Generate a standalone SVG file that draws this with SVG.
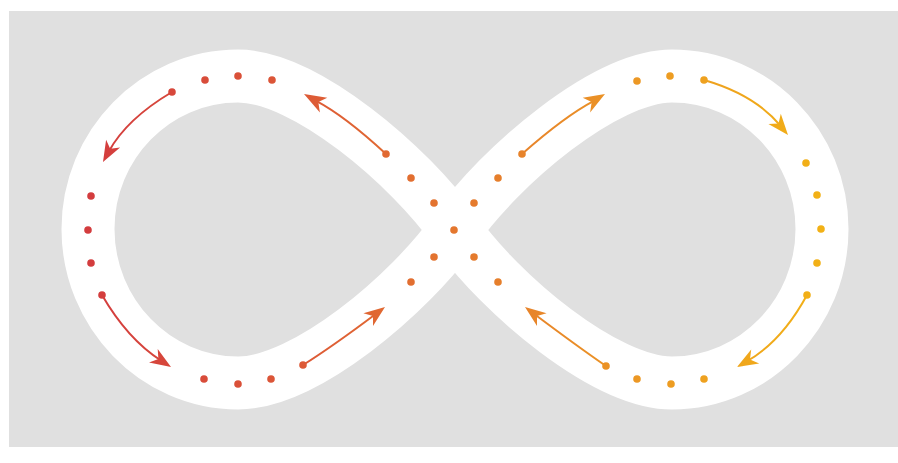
<svg xmlns="http://www.w3.org/2000/svg" width="898" height="463" viewBox="0 0 898 463">
  <defs>
    <!-- warm hue ramp running left to right across the loop -->
    <linearGradient id="warm" gradientUnits="userSpaceOnUse" x1="88" y1="0" x2="822" y2="0">
      <stop offset="0" stop-color="#d33c3e"/>
      <stop offset="0.3" stop-color="#dd5a36"/>
      <stop offset="0.5" stop-color="#e4772e"/>
      <stop offset="0.75" stop-color="#ec9824"/>
      <stop offset="1" stop-color="#f2b116"/>
    </linearGradient>
    <style>
      .band { fill: none; stroke: #ffffff; stroke-width: 53; stroke-linejoin: round; }
      .dot { fill: url(#warm); }
      .shaft { fill: none; stroke: url(#warm); stroke-width: 2; stroke-linecap: round; }
      .head { fill: url(#warm); }
    </style>
  </defs>

  <rect id="backdrop" x="9" y="11" width="889" height="436" fill="#e0e0e0"/>

  <!-- figure-eight track -->
  <g id="track">
    <path class="band" d="M455,230 C410,166 305,76 238,76 C155,76 88,145 88,229 C88,313 155,383 238,383 C305,383 410,294 455,230 C500,166 605,76 672,76 C755,76 822,145 822,229 C822,313 755,383 672,383 C605,383 500,294 455,230 Z"/>
  </g>

  <!-- dots along the track -->
  <g id="dots">
    <circle class="dot" cx="172" cy="92" r="3.8"/>
    <circle class="dot" cx="205" cy="80" r="3.8"/>
    <circle class="dot" cx="238" cy="76" r="3.8"/>
    <circle class="dot" cx="272" cy="80" r="3.8"/>
    <circle class="dot" cx="91" cy="196" r="3.8"/>
    <circle class="dot" cx="88" cy="230" r="3.8"/>
    <circle class="dot" cx="91" cy="263" r="3.8"/>
    <circle class="dot" cx="102" cy="295" r="3.8"/>
    <circle class="dot" cx="204" cy="379" r="3.8"/>
    <circle class="dot" cx="238" cy="384" r="3.8"/>
    <circle class="dot" cx="271" cy="379" r="3.8"/>
    <circle class="dot" cx="303" cy="365" r="3.8"/>
    <circle class="dot" cx="386" cy="154" r="3.8"/>
    <circle class="dot" cx="411" cy="178" r="3.8"/>
    <circle class="dot" cx="434" cy="203" r="3.8"/>
    <circle class="dot" cx="474" cy="203" r="3.8"/>
    <circle class="dot" cx="498" cy="178" r="3.8"/>
    <circle class="dot" cx="454" cy="230" r="3.8"/>
    <circle class="dot" cx="434" cy="257" r="3.8"/>
    <circle class="dot" cx="474" cy="257" r="3.8"/>
    <circle class="dot" cx="411" cy="282" r="3.8"/>
    <circle class="dot" cx="498" cy="282" r="3.8"/>
    <circle class="dot" cx="522" cy="154" r="3.8"/>
    <circle class="dot" cx="637" cy="81" r="3.8"/>
    <circle class="dot" cx="670" cy="76" r="3.8"/>
    <circle class="dot" cx="704" cy="80" r="3.8"/>
    <circle class="dot" cx="806" cy="163" r="3.8"/>
    <circle class="dot" cx="817" cy="195" r="3.8"/>
    <circle class="dot" cx="821" cy="229" r="3.8"/>
    <circle class="dot" cx="817" cy="263" r="3.8"/>
    <circle class="dot" cx="807" cy="295" r="3.8"/>
    <circle class="dot" cx="704" cy="379" r="3.8"/>
    <circle class="dot" cx="671" cy="384" r="3.8"/>
    <circle class="dot" cx="637" cy="379" r="3.8"/>
    <circle class="dot" cx="606" cy="366" r="3.8"/>
  </g>

  <!-- direction arrows -->
  <g id="connectors">
    <path class="shaft" d="M172,92 Q126.5,119 108.8,151.5"/>
    <path class="head" d="M103,162 L106.1,139.7 L110.2,148.8 L120.1,147.4 Z"/>

    <path class="shaft" d="M102,295 Q127.5,339 160.9,360.5"/>
    <path class="head" d="M171,367 L149,362.4 L158.4,358.9 L157.7,348.9 Z"/>

    <path class="shaft" d="M303,365 Q333,346 375.4,314.2"/>
    <path class="head" d="M385,307 L373,326 L373,316 L363.4,313.2 Z"/>

    <path class="shaft" d="M386,154 Q345,116 315.6,100.6"/>
    <path class="head" d="M304,94 L327.3,97.7 L318.3,102 L319.9,112.4 Z"/>

    <path class="shaft" d="M522,154 Q565,116 594.4,100.6"/>
    <path class="head" d="M605,94 L590.1,112.4 L591.7,102 L582.7,97.7 Z"/>

    <path class="shaft" d="M704,80 Q754.8,94.7 780.4,125.7"/>
    <path class="head" d="M788,135 L768.4,123.9 L778.5,123.4 L780.8,113.7 Z"/>

    <path class="shaft" d="M807,295 Q782,341 747.4,361"/>
    <path class="head" d="M737,367 L751.2,349.6 L750,359.5 L759.2,363.4 Z"/>

    <path class="shaft" d="M606,366 Q577,346 534.6,314.2"/>
    <path class="head" d="M525,307 L546.6,313.2 L537,316 L537,326 Z"/>
  </g>
</svg>
